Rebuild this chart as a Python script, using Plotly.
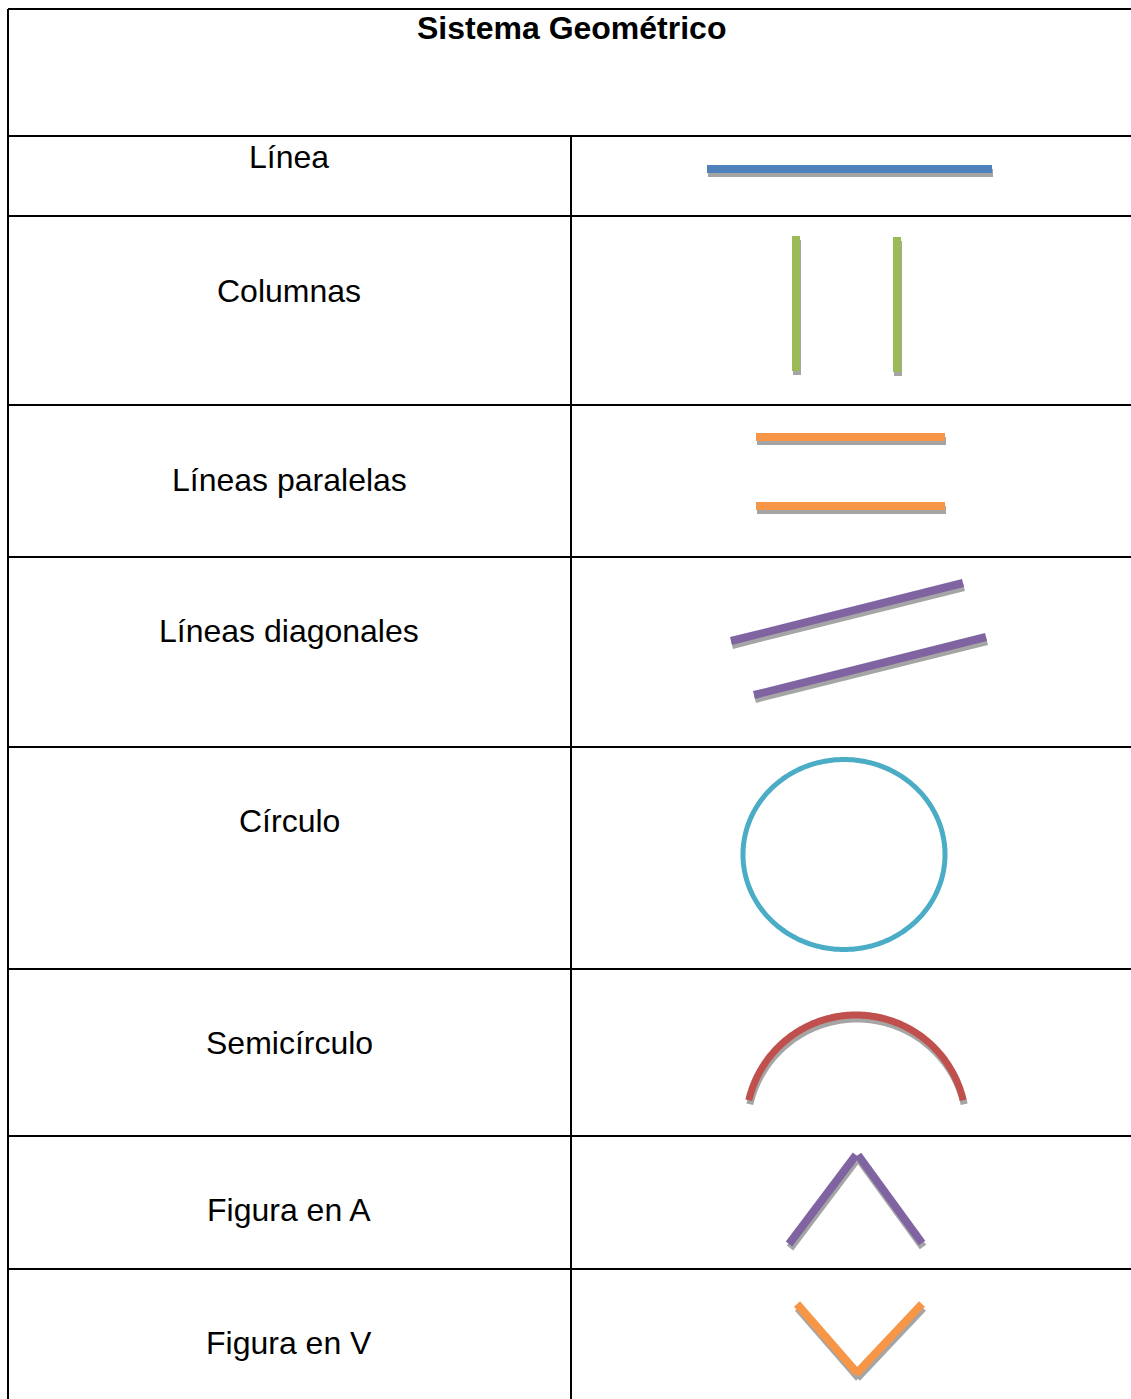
import numpy as np
import plotly.graph_objects as go

W, H = 1131, 1399

title_text = "Sistema Geométrico"
row_labels = ["Línea", "Columnas", "Líneas paralelas", "Líneas diagonales",
              "Círculo", "Semicírculo", "Figura en A", "Figura en V"]
row_bounds = [136, 216, 405, 557, 747, 969, 1136, 1269]
label_y = [157, 291, 480, 631, 821, 1043, 1210, 1343]
table_left, table_top, col_split = 8, 9, 571

BLUE, GREEN, ORANGE, PURPLE, TEAL, RED, SHADOW = (
    "#4F81BD", "#9BBB59", "#F79646", "#8064A2", "#4BACC6", "#C0504D", "#A5A5A5")

# shape geometry (segments: x0, y0, x1, y1)
line_seg = [(707, 169, 992, 169)]
column_segs = [(796, 236, 796, 371), (897, 237, 897, 372)]
parallel_segs = [(756, 437, 945, 437), (756, 506, 945, 506)]
diagonal_segs = [(731, 641, 963, 583), (754, 695, 986, 637)]
a_segs = [(789, 1244, 856, 1155), (858, 1155, 922, 1243)]
v_segs = [(797, 1304, 858, 1374), (856, 1374, 922, 1304)]
circle_c, circle_r = (844, 854.5), (101, 95)
semi_c, semi_r, semi_ang = (856, 1125), 110, (167, 13)

fig = go.Figure()

def seg(x0, y0, x1, y1, color, width, shadow=True):
    if shadow:
        fig.add_trace(go.Scatter(x=[x0 + 1, x1 + 1], y=[y0 + 4, y1 + 4], mode="lines",
                                 line=dict(color=SHADOW, width=width), hoverinfo="skip"))
    fig.add_trace(go.Scatter(x=[x0, x1], y=[y0, y1], mode="lines",
                             line=dict(color=color, width=width), hoverinfo="skip"))

for s in line_seg:
    seg(*s, BLUE, 8)
for s in column_segs:
    seg(*s, GREEN, 8)
for s in parallel_segs:
    seg(*s, ORANGE, 8)
for s in diagonal_segs:
    seg(*s, PURPLE, 8)
for s in a_segs:
    seg(*s, PURPLE, 8)
for s in v_segs:
    seg(*s, ORANGE, 8)

# circle
t = np.linspace(0, 2 * np.pi, 361)
fig.add_trace(go.Scatter(x=circle_c[0] + circle_r[0] * np.cos(t),
                         y=circle_c[1] + circle_r[1] * np.sin(t), mode="lines",
                         line=dict(color=TEAL, width=5, simplify=False), hoverinfo="skip"))
# semicircle arc
a = np.radians(np.linspace(semi_ang[0], semi_ang[1], 241))
sx = semi_c[0] + semi_r * np.cos(a)
sy = semi_c[1] - semi_r * np.sin(a)
fig.add_trace(go.Scatter(x=sx + 1, y=sy + 4, mode="lines",
                         line=dict(color=SHADOW, width=7, simplify=False), hoverinfo="skip"))
fig.add_trace(go.Scatter(x=sx, y=sy, mode="lines",
                         line=dict(color=RED, width=7, simplify=False), hoverinfo="skip"))

# table borders
shapes = []
border = dict(color="black", width=2)
shapes.append(dict(type="line", x0=table_left, x1=W, y0=table_top, y1=table_top, line=border))
for yb in row_bounds:
    shapes.append(dict(type="line", x0=table_left, x1=W, y0=yb, y1=yb, line=border))
shapes.append(dict(type="line", x0=table_left, x1=table_left, y0=table_top, y1=H, line=border))
shapes.append(dict(type="line", x0=col_split, x1=col_split, y0=row_bounds[0], y1=H, line=border))

annotations = [dict(x=571, y=28, text="<b>" + title_text + "</b>", showarrow=False,
                    font=dict(family="Liberation Sans, Arial", size=32, color="black"),
                    xanchor="center", yanchor="middle")]
for lab, yy in zip(row_labels, label_y):
    annotations.append(dict(x=289, y=yy, text=lab, showarrow=False,
                            font=dict(family="Liberation Sans, Arial", size=32, color="black"),
                            xanchor="center", yanchor="middle"))

fig.update_layout(
    width=W, height=H, margin=dict(l=0, r=0, t=0, b=0),
    paper_bgcolor="white", plot_bgcolor="white", showlegend=False,
    xaxis=dict(range=[0, W], visible=False, fixedrange=True),
    yaxis=dict(range=[H, 0], visible=False, fixedrange=True),
    shapes=shapes, annotations=annotations,
)

fig.write_html("out.html", config={"displayModeBar": False},
               post_script="document.body.style.margin='0';document.body.style.overflow='hidden';")
